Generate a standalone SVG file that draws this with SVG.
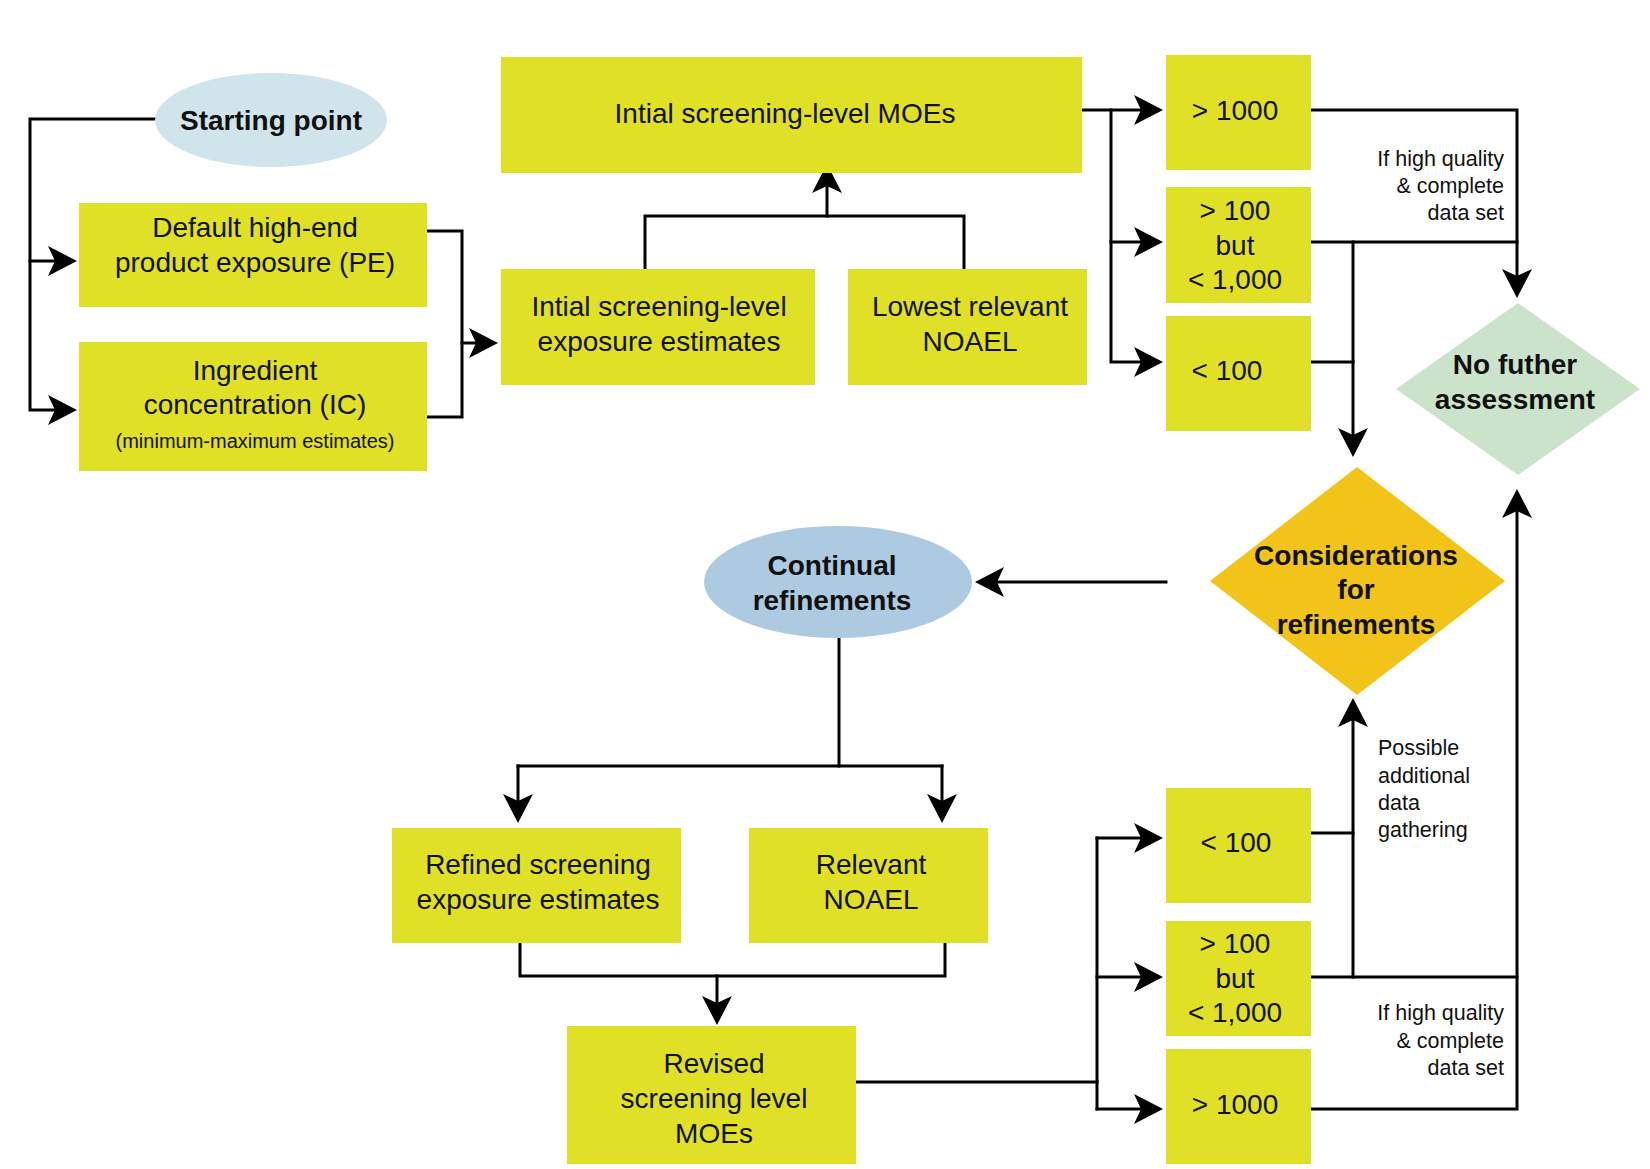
<svg xmlns="http://www.w3.org/2000/svg" width="1650" height="1169" viewBox="0 0 1650 1169">
<defs>
<style>
.box{fill:#e0e026;}
.t{font-family:"Liberation Sans",Arial,sans-serif;font-size:28px;fill:#111;text-anchor:middle;}
.b{font-weight:bold;}
.s{font-family:"Liberation Sans",Arial,sans-serif;font-size:21.5px;fill:#111;}
.c{fill:none;stroke:#000;stroke-width:3;stroke-linecap:square;stroke-linejoin:miter;}
.a{marker-end:url(#ah);}
</style>
<marker id="ah" markerUnits="userSpaceOnUse" markerWidth="29" markerHeight="30" refX="21" refY="15" orient="auto" overflow="visible">
<path d="M0,0 L29,15 L0,30 L7,15 Z" fill="#000"/>
</marker>
</defs>
<rect width="1650" height="1169" fill="#fff"/>

<g id="connectors">
<path class="c a" d="M155,119 H30 V410 H69"/>
<path class="c a" d="M30,261 H69"/>
<path class="c" d="M427,231 H462 V417 H427"/>
<path class="c a" d="M462,343 H490"/>
<path class="c" d="M645,269 V216 H964 V269"/>
<path class="c a" d="M827,216 V172"/>
<path class="c a" d="M1082,110 H1155"/>
<path class="c a" d="M1111,110 V362 H1155"/>
<path class="c a" d="M1111,242 H1155"/>
<path class="c a" d="M1311,110 H1517 V290"/>
<path class="c" d="M1311,242 H1517"/>
<path class="c a" d="M1353,242 V449"/>
<path class="c" d="M1311,362 H1353"/>
<path class="c a" d="M1166,582 H983"/>
<path class="c" d="M839,639 V766"/>
<path class="c" d="M518,766 H942"/>
<path class="c a" d="M518,766 V815"/>
<path class="c a" d="M942,766 V815"/>
<path class="c" d="M520,943 V976 H945 V943"/>
<path class="c a" d="M717,976 V1017"/>
<path class="c" d="M856,1082 H1097"/>
<path class="c" d="M1097,838 V1109"/>
<path class="c a" d="M1097,838 H1155"/>
<path class="c a" d="M1097,977 H1155"/>
<path class="c a" d="M1097,1109 H1155"/>
<path class="c" d="M1311,833 H1353"/>
<path class="c" d="M1311,977 H1517"/>
<path class="c a" d="M1353,977 V706"/>
<path class="c a" d="M1311,1109 H1517 V497"/>
</g>

<g id="edge-labels">
<text class="s" text-anchor="end" x="1504" y="166">If high quality</text>
<text class="s" text-anchor="end" x="1504" y="193">&amp; complete</text>
<text class="s" text-anchor="end" x="1504" y="220">data set</text>
<text class="s" x="1378" y="755">Possible</text>
<text class="s" x="1378" y="783">additional</text>
<text class="s" x="1378" y="810">data</text>
<text class="s" x="1378" y="837">gathering</text>
<text class="s" text-anchor="end" x="1504" y="1020">If high quality</text>
<text class="s" text-anchor="end" x="1504" y="1048">&amp; complete</text>
<text class="s" text-anchor="end" x="1504" y="1075">data set</text>
</g>

<g id="starting-point">
<ellipse cx="271" cy="120" rx="116" ry="47" fill="#cfe4eb"/>
<text class="t b" x="271" y="130">Starting point</text>
</g>

<g id="default-pe">
<rect class="box" x="79" y="203" width="348" height="104"/>
<text class="t" x="255" y="237">Default high-end</text>
<text class="t" x="255" y="272">product exposure (PE)</text>
</g>

<g id="ingredient-ic">
<rect class="box" x="79" y="342" width="348" height="129"/>
<text class="t" x="255" y="380">Ingredient</text>
<text class="t" x="255" y="414">concentration (IC)</text>
<text class="t" x="255" y="448" style="font-size:20px">(minimum-maximum estimates)</text>
</g>

<g id="initial-moes">
<rect class="box" x="501" y="57" width="581" height="116"/>
<text class="t" x="785" y="123">Intial screening-level MOEs</text>
</g>

<g id="initial-exposure">
<rect class="box" x="501" y="269" width="314" height="116"/>
<text class="t" x="659" y="316">Intial screening-level</text>
<text class="t" x="659" y="351">exposure estimates</text>
</g>

<g id="lowest-noael">
<rect class="box" x="848" y="269" width="239" height="116"/>
<text class="t" x="970" y="316">Lowest relevant</text>
<text class="t" x="970" y="351">NOAEL</text>
</g>

<g id="top-gt1000">
<rect class="box" x="1166" y="55" width="145" height="115"/>
<text class="t" x="1235" y="120">&gt; 1000</text>
</g>

<g id="top-100-1000">
<rect class="box" x="1166" y="187" width="145" height="116"/>
<text class="t" x="1235" y="220">&gt; 100</text>
<text class="t" x="1235" y="255">but</text>
<text class="t" x="1235" y="289">&lt; 1,000</text>
</g>

<g id="top-lt100">
<rect class="box" x="1166" y="316" width="145" height="115"/>
<text class="t" x="1227" y="380">&lt; 100</text>
</g>

<g id="no-further">
<polygon points="1518,303 1640,389 1518,475 1396,389" fill="#cce3cb"/>
<text class="t b" x="1515" y="374">No futher</text>
<text class="t b" x="1515" y="409">assessment</text>
</g>

<g id="considerations">
<polygon points="1357,467 1505,581 1357,695 1210,581" fill="#f2c41a"/>
<text class="t b" x="1356" y="565">Considerations</text>
<text class="t b" x="1356" y="599">for</text>
<text class="t b" x="1356" y="634">refinements</text>
</g>

<g id="continual">
<ellipse cx="838" cy="582" rx="134" ry="56" fill="#aecae1"/>
<text class="t b" x="832" y="575">Continual</text>
<text class="t b" x="832" y="610">refinements</text>
</g>

<g id="refined-exposure">
<rect class="box" x="392" y="828" width="289" height="115"/>
<text class="t" x="538" y="874">Refined screening</text>
<text class="t" x="538" y="909">exposure estimates</text>
</g>

<g id="relevant-noael">
<rect class="box" x="749" y="828" width="239" height="115"/>
<text class="t" x="871" y="874">Relevant</text>
<text class="t" x="871" y="909">NOAEL</text>
</g>

<g id="revised-moes">
<rect class="box" x="567" y="1026" width="289" height="138"/>
<text class="t" x="714" y="1073">Revised</text>
<text class="t" x="714" y="1108">screening level</text>
<text class="t" x="714" y="1143">MOEs</text>
</g>

<g id="low-lt100">
<rect class="box" x="1166" y="788" width="145" height="115"/>
<text class="t" x="1236" y="852">&lt; 100</text>
</g>

<g id="low-100-1000">
<rect class="box" x="1166" y="921" width="145" height="115"/>
<text class="t" x="1235" y="953">&gt; 100</text>
<text class="t" x="1235" y="988">but</text>
<text class="t" x="1235" y="1022">&lt; 1,000</text>
</g>

<g id="low-gt1000">
<rect class="box" x="1166" y="1049" width="145" height="115"/>
<text class="t" x="1235" y="1114">&gt; 1000</text>
</g>
</svg>
